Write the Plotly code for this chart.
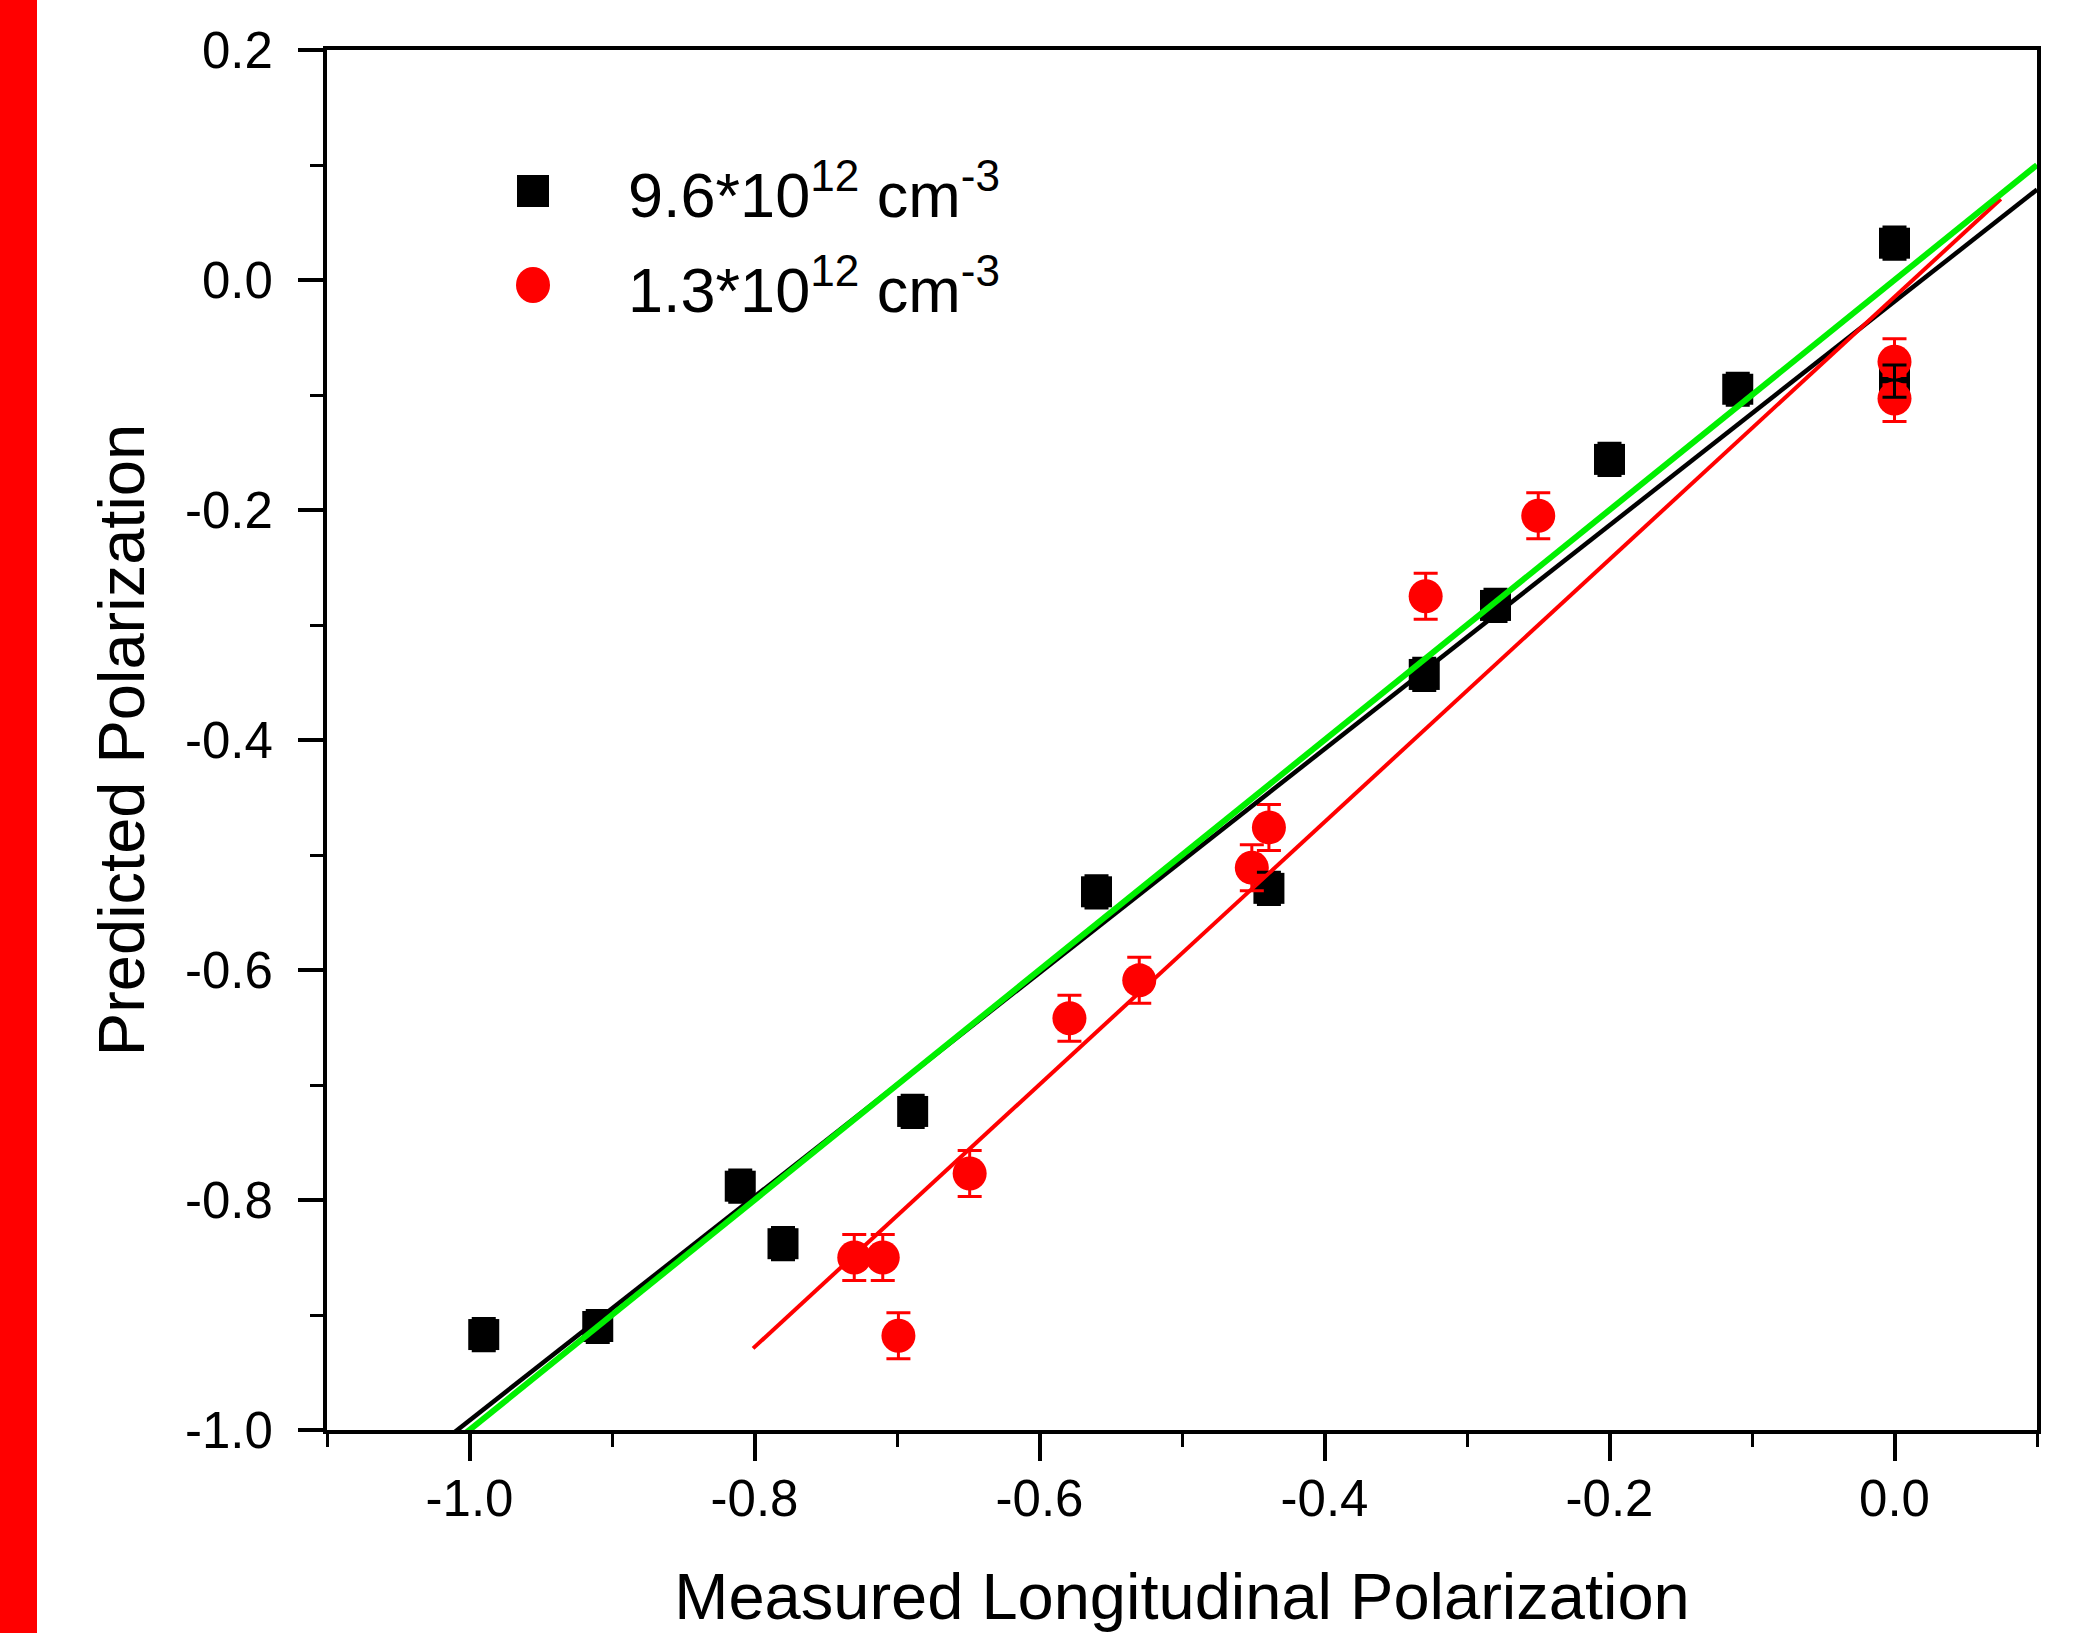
import plotly.graph_objects as go
import numpy as np

# ---- data ----
black_x = [-0.990, -0.910, -0.810, -0.780, -0.689, -0.560, -0.439, -0.330, -0.280, -0.200, -0.110, 0.000, 0.000]
black_y = [-0.917, -0.910, -0.788, -0.838, -0.723, -0.532, -0.529, -0.343, -0.283, -0.156, -0.095, 0.032, -0.088]
black_err = [0.014] * len(black_x)

red_x = [-0.730, -0.710, -0.699, -0.649, -0.579, -0.530, -0.451, -0.439, -0.329, -0.250, 0.000, 0.000]
red_y = [-0.850, -0.850, -0.918, -0.777, -0.642, -0.609, -0.511, -0.476, -0.275, -0.205, -0.071, -0.103]
red_err = [0.02] * len(red_x)

# linear fits (slope, intercept) and the x-span they are drawn over
black_fit = (0.973, -0.0187)
black_fit_span = [-1.10, 0.10]
red_fit = (1.1415, -0.0147)
red_fit_span = [-0.801, 0.0746]
green_ref = (1.0, 0.0)
green_ref_span = [-1.10, 0.10]

x_ticks = [-1.0, -0.8, -0.6, -0.4, -0.2, 0.0]
y_ticks = [-1.0, -0.8, -0.6, -0.4, -0.2, 0.0, 0.2]

legend_names = ["9.6*10<sup>12</sup> cm<sup>-3</sup>", "1.3*10<sup>12</sup> cm<sup>-3</sup>"]

FONT = "Liberation Sans, Arial, sans-serif"

fig = go.Figure()

fig.add_trace(go.Scatter(
    x=black_x, y=black_y, mode="markers",
    marker=dict(symbol="square", size=31, color="black"),
    showlegend=False,
))
fig.add_trace(go.Scatter(
    x=red_x, y=red_y, mode="markers",
    marker=dict(symbol="circle", size=34, color="#ff0000"),
    error_y=dict(type="data", array=red_err, visible=True, color="#ff0000", thickness=3, width=12),
    showlegend=False,
))
# black error bars (drawn above the red circles, as in the reference)
fig.add_trace(go.Scatter(
    x=black_x, y=black_y, mode="markers",
    marker=dict(size=1, color="rgba(0,0,0,0)"),
    error_y=dict(type="data", array=black_err, visible=True, color="black", thickness=3, width=12),
    showlegend=False,
))

def line_from(fit, span):
    xs = np.array(span)
    return xs, fit[0] * xs + fit[1]

bx, by = line_from(black_fit, black_fit_span)
fig.add_trace(go.Scatter(x=bx, y=by, mode="lines", line=dict(color="black", width=4.5), showlegend=False))
rx, ry = line_from(red_fit, red_fit_span)
fig.add_trace(go.Scatter(x=rx, y=ry, mode="lines", line=dict(color="#ff0000", width=4), showlegend=False))
gx, gy = line_from(green_ref, green_ref_span)
fig.add_trace(go.Scatter(x=gx, y=gy, mode="lines", line=dict(color="#00f000", width=6), showlegend=False))

W, H = 2083, 1633
ml, mr, mt, mb = 327, 46, 50, 203
pw, ph = W - ml - mr, H - mt - mb

def px2paper_x(px):
    return (px - ml) / pw

def px2paper_y(py):
    return (H - mb - py) / ph

shapes = []
# red bar at far left
shapes.append(dict(type="rect", xref="paper", yref="paper",
                   x0=px2paper_x(0), x1=px2paper_x(37), y0=-0.3, y1=1.2,
                   fillcolor="#ff0000", line=dict(width=0), layer="above"))
# manual legend symbols
sym_x = px2paper_x(533)
row_y = [px2paper_y(191), px2paper_y(285)]
shapes.append(dict(type="rect", xref="paper", yref="paper", xsizemode="pixel", ysizemode="pixel",
                   xanchor=sym_x, yanchor=row_y[0], x0=-16, x1=16, y0=-16, y1=16,
                   fillcolor="black", line=dict(width=0)))
shapes.append(dict(type="circle", xref="paper", yref="paper", xsizemode="pixel", ysizemode="pixel",
                   xanchor=sym_x, yanchor=row_y[1], x0=-17, x1=17, y0=-18, y1=18,
                   fillcolor="#ff0000", line=dict(width=0)))

annotations = []
for name, yy in zip(legend_names, row_y):
    annotations.append(dict(xref="paper", yref="paper", x=px2paper_x(626), y=yy,
                            xanchor="left", yanchor="middle", text=name, showarrow=False,
                            font=dict(family=FONT, size=63, color="black")))

axis_common = dict(
    showline=True, linecolor="black", linewidth=4, mirror=True,
    ticks="outside", tickwidth=3.5, tickcolor="black",
    showgrid=False, zeroline=False,
    tickfont=dict(family=FONT, size=51, color="black"),
    title_font=dict(family=FONT, size=65, color="black"),
)

fig.update_layout(
    width=W, height=H,
    margin=dict(l=ml, r=mr, t=mt, b=mb, autoexpand=False),
    paper_bgcolor="white", plot_bgcolor="white",
    shapes=shapes, annotations=annotations,
    xaxis=dict(range=[-1.1, 0.1], tickvals=x_ticks, ticktext=[f"{v:.1f}" for v in x_ticks],
               ticklen=27, ticklabelstandoff=-6,
               title=dict(text="Measured Longitudinal Polarization", standoff=57),
               minor=dict(ticks="outside", ticklen=13, tickwidth=3, tickcolor="black", dtick=0.1, tick0=-1.1),
               **axis_common),
    yaxis=dict(range=[-1.0, 0.2], tickvals=y_ticks, ticktext=[f"{v:.1f}" for v in y_ticks],
               ticklen=25, ticklabelstandoff=15,
               title=dict(text="Predicted Polarization", standoff=20),
               minor=dict(ticks="outside", ticklen=13, tickwidth=3, tickcolor="black", dtick=0.1, tick0=-1.0),
               **axis_common),
)

fig.write_html("out.html", config={"displayModeBar": False},
               post_script="document.body.style.margin='0px';document.body.style.padding='0px';")
